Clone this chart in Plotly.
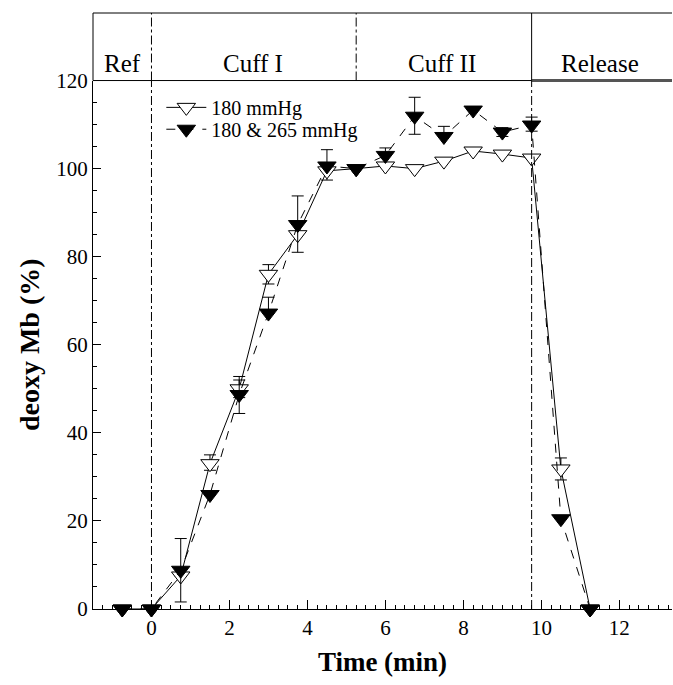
import plotly.graph_objects as go

# ---- data ----
time_min = [-0.75, 0, 0.75, 1.5, 2.25, 3.0, 3.75, 4.5, 5.25, 6.0, 6.75, 7.5, 8.25, 9.0, 9.75, 10.5, 11.25]
mb_180 = [0, 0, 7.5, 33, 50, 76, 85, 99.5, 100, 100.6, 100, 101.7, 104, 103.3, 102.4, 31.8, 0]
mb_180_err_up = [0, 0, 0, 2, 2, 2.2, 0, 0, 0, 0, 0, 0, 0, 0, 0, 2.5, 0]
mb_180_err_dn = [0, 0, 0, 1.5, 2, 2.2, 0, 2.1, 0, 0, 0, 0, 0, 0, 0, 2.5, 0]
mb_265 = [0, 0, 8.8, 26, 48.7, 67.2, 87.3, 100.6, 100, 103, 111.9, 107.3, 113.3, 108.3, 109.9, 20.5, 0]
mb_265_err_up = [0, 0, 7.2, 0, 4.1, 3.6, 6.5, 3.7, 0, 1.7, 4.3, 2.3, 0, 1.0, 1.8, 0, 0]
mb_265_err_dn = [0, 0, 7.2, 0, 4.3, 0, 6.3, 0, 0, 0, 4.1, 0, 0, 1.0, 1.4, 0, 0]
series_names = ["180 mmHg", "180 & 265 mmHg"]
phase_labels = ["Ref", "Cuff I", "Cuff II", "Release"]
phase_centers = [-0.74, 2.6, 7.45, 11.5]
phase_bounds = [0, 5.25, 9.75]
x_ticks = [0, 2, 4, 6, 8, 10, 12]
y_ticks = [0, 20, 40, 60, 80, 100, 120]

FONT = "Liberation Serif, Times New Roman, serif"
X0, X1 = -1.5, 13.35
Y_TOP = (609 - 77) / 600.0
HDR_TOP = (609 - 9) / 600.0

fig = go.Figure()
fig.add_trace(go.Scatter(
    x=time_min, y=mb_180, name=series_names[0], mode="lines+markers",
    line=dict(color="black", width=1),
    marker=dict(symbol="triangle-down", size=16, color="white", line=dict(color="black", width=1)),
    error_y=dict(type="data", array=mb_180_err_up, arrayminus=mb_180_err_dn, symmetric=False,
                 color="black", thickness=1, width=6),
    cliponaxis=False, legend="legend",
))
fig.add_trace(go.Scatter(
    x=time_min, y=mb_265, name=series_names[1], mode="lines+markers",
    line=dict(color="black", width=1, dash="dash"),
    marker=dict(symbol="triangle-down", size=16, color="black", line=dict(color="black", width=1)),
    error_y=dict(type="data", array=mb_265_err_up, arrayminus=mb_265_err_dn, symmetric=False,
                 color="black", thickness=1, width=6),
    cliponaxis=False, legend="legend2",
))

shapes = []
# header box
shapes.append(dict(type="line", xref="paper", yref="paper", x0=0, x1=1, y0=HDR_TOP, y1=HDR_TOP,
                   line=dict(color="black", width=1)))
shapes.append(dict(type="line", xref="paper", yref="paper", x0=0, x1=0, y0=Y_TOP, y1=HDR_TOP,
                   line=dict(color="black", width=1)))
shapes.append(dict(type="line", xref="paper", yref="paper", x0=0, x1=1, y0=Y_TOP, y1=Y_TOP,
                   line=dict(color="black", width=1)))
shapes.append(dict(type="line", xref="x", yref="paper", x0=phase_bounds[2], x1=X1, y0=Y_TOP, y1=Y_TOP,
                   line=dict(color="#555555", width=3)))
# phase dividers in header
for b in phase_bounds:
    shapes.append(dict(type="line", xref="x", yref="paper", x0=b, x1=b, y0=Y_TOP, y1=HDR_TOP,
                       line=dict(color="black", width=1, dash="dashdot" if b != phase_bounds[2] else "solid")))
# dash-dot lines in plot
for b in [phase_bounds[0], phase_bounds[2]]:
    shapes.append(dict(type="line", xref="x", yref="paper", x0=b, x1=b, y0=0, y1=Y_TOP,
                       line=dict(color="black", width=1, dash="dashdot")))

annotations = []
for lab, cx in zip(phase_labels, phase_centers):
    annotations.append(dict(text=lab, x=cx, y=(609 - 44) / 600.0, xref="x", yref="paper",
                            showarrow=False, font=dict(family=FONT, size=25, color="black")))

leg_common = dict(xanchor="left", yanchor="middle", bgcolor="rgba(0,0,0,0)",
                  font=dict(family=FONT, size=20, color="black"), itemwidth=40)

fig.update_layout(
    width=673, height=685,
    margin=dict(l=93, r=1, t=9, b=76),
    paper_bgcolor="white", plot_bgcolor="white",
    font=dict(family=FONT, color="black", size=21),
    shapes=shapes, annotations=annotations,
    showlegend=True,
    legend=dict(x=0.118, y=(609 - 104) / 600.0, **leg_common),
    legend2=dict(x=0.118, y=(609 - 126) / 600.0, **leg_common),
    xaxis=dict(range=[X0, X1], tickvals=x_ticks, ticks="inside", ticklen=9, tickcolor="black",
               showline=True, linecolor="black", linewidth=1, showgrid=False, zeroline=False,
               minor=dict(dtick=0.25, tick0=0, ticks="inside", ticklen=4, tickcolor="black"),
               tickfont=dict(family=FONT, size=21),
               title=dict(text="<b>Time (min)</b>", font=dict(family=FONT, size=27), standoff=12)),
    yaxis=dict(range=[0, 120], domain=[0, Y_TOP], tickvals=y_ticks, ticks="inside", ticklen=8,
               tickcolor="black", showline=True, linecolor="black", linewidth=1, showgrid=False,
               zeroline=False,
               minor=dict(dtick=5, tick0=0, ticks="inside", ticklen=4, tickcolor="black"),
               tickfont=dict(family=FONT, size=21),
               title=dict(text="<b>deoxy Mb (%)</b>", font=dict(family=FONT, size=28), standoff=8)),
)

fig.write_html("out.html", config={"displayModeBar": False},
               post_script="document.body.style.margin='0px';")
